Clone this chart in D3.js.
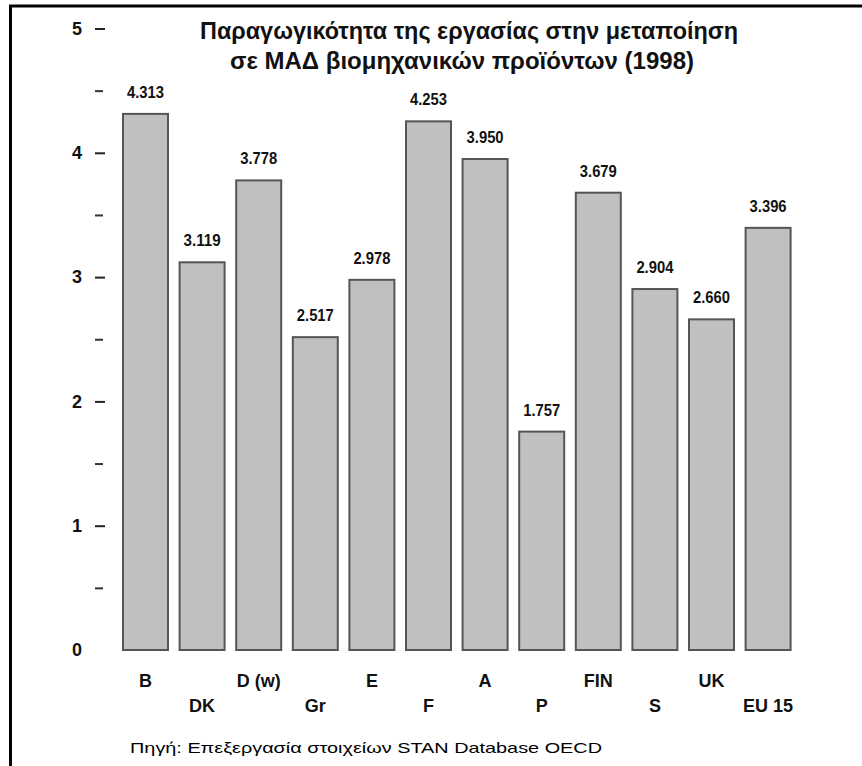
<!DOCTYPE html>
<html><head><meta charset="utf-8">
<script src="https://cdn.jsdelivr.net/npm/d3@7"></script>
<style>
html,body{margin:0;padding:0;background:#fff;}
svg{display:block;}
text{font-family:"Liberation Sans Narrow","Arial Narrow","Liberation Sans",Arial,sans-serif;font-weight:bold;fill:#111;}
</style></head>
<body>
<script>
const categories = ["B","DK","D (w)","Gr","E","F","A","P","FIN","S","UK","EU 15"];
const values = [4.313,3.119,3.778,2.517,2.978,4.253,3.950,1.757,3.679,2.904,2.660,3.396];
const valueLabels = ["4.313","3.119","3.778","2.517","2.978","4.253","3.950","1.757","3.679","2.904","2.660","3.396"];
const majorTicks = [0,1,2,3,4,5];
const minorTicks = [0.5,1.5,2.5,3.5,4.5];
const titleLines = ["Παραγωγικότητα της εργασίας στην μεταποίηση","σε ΜΑΔ βιομηχανικών προϊόντων (1998)"];
const sourceText = "Πηγή: Επεξεργασία στοιχείων STAN Database OECD";

const W = 862, H = 766;
const svg = d3.select("body").append("svg").attr("width", W).attr("height", H);

// frame
svg.append("line").attr("x1",10.5).attr("x2",10.5).attr("y1",5).attr("y2",H).attr("stroke","#000").attr("stroke-width",3);
svg.append("line").attr("x1",9).attr("x2",W).attr("y1",6).attr("y2",6).attr("stroke","#000").attr("stroke-width",3);

const x = d3.scaleBand().domain(categories).range([117.2, 117.2 + 12*56.6]).paddingInner(0.205).paddingOuter(0.1025);
const y = d3.scaleLinear().domain([0,5]).range([650, 28.5]);

// y axis major
const gy = svg.append("g").attr("transform","translate(105,0)")
  .call(d3.axisLeft(y).tickValues(majorTicks).tickFormat(d3.format("d")).tickSize(10).tickPadding(13));
gy.select(".domain").remove();
gy.selectAll(".tick line").attr("stroke","#222").attr("stroke-width",2).filter(d=>d===0).remove();
gy.selectAll(".tick text").attr("font-size",18).style("font-family",'"Liberation Sans",Arial,sans-serif');

// y axis minor
const gm = svg.append("g").attr("transform","translate(103,0)")
  .call(d3.axisLeft(y).tickValues(minorTicks).tickFormat("").tickSize(8));
gm.select(".domain").remove();
gm.selectAll(".tick line").attr("stroke","#333").attr("stroke-width",2);

// bars
svg.append("g").selectAll("rect").data(values).join("rect")
  .attr("x",(d,i)=>x(categories[i]))
  .attr("y",d=>y(d))
  .attr("width",x.bandwidth())
  .attr("height",d=>y(0)-y(d))
  .attr("fill","#c0c0c0").attr("stroke","#555").attr("stroke-width",2);

// value labels
svg.append("g").selectAll("text").data(values).join("text")
  .attr("x",(d,i)=>x(categories[i])+x.bandwidth()/2)
  .attr("y",d=>y(d)-16)
  .attr("text-anchor","middle").attr("font-size",16)
  .attr("textLength",37).attr("lengthAdjust","spacingAndGlyphs")
  .text((d,i)=>valueLabels[i]);

// category labels (staggered)
const gx = svg.append("g").attr("transform","translate(0,650)")
  .call(d3.axisBottom(x).tickSize(0).tickPadding(0));
gx.select(".domain").remove();
gx.selectAll(".tick text").attr("font-size",18).attr("dy",null)
  .attr("y",(d,i)=> i%2===0 ? 37 : 62)
  .style("fill","#111");

// title
const tl = [{t:titleLines[0], x1:200, x2:738, y:39},{t:titleLines[1], x1:230, x2:694, y:69}];
svg.append("g").selectAll("text").data(tl).join("text")
  .attr("x",d=>(d.x1+d.x2)/2).attr("y",d=>d.y).attr("text-anchor","middle")
  .attr("font-size",24)
  .attr("textLength",d=>d.x2-d.x1).attr("lengthAdjust","spacingAndGlyphs")
  .text(d=>d.t);

// source
svg.append("text").attr("x",130).attr("y",753).attr("font-size",15)
  .attr("textLength",472).attr("lengthAdjust","spacingAndGlyphs")
  .style("font-weight","normal").style("font-family",'"Liberation Sans",Arial,sans-serif')
  .style("fill","#000")
  .text(sourceText);
</script>
</body></html>
